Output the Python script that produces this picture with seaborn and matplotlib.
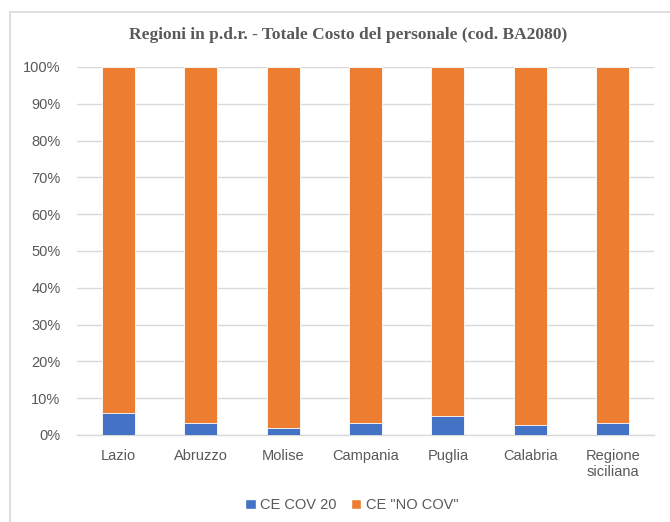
import pandas as pd
import seaborn as sns
import matplotlib.pyplot as plt
from matplotlib.patches import Patch, Rectangle
from matplotlib.ticker import PercentFormatter

# values (share of total personnel cost, %)
regions = ["Lazio", "Abruzzo", "Molise", "Campania", "Puglia", "Calabria", "Regione\nsiciliana"]
cov_20 = [5.9, 3.2, 1.8, 3.2, 5.1, 2.6, 3.2]
no_cov = [94.1, 96.8, 98.2, 96.8, 94.9, 97.4, 96.8]

blue = "#4472C4"
orange = "#ED7D31"
grey_txt = "#595959"
grid_col = "#D9D9D9"

df = pd.DataFrame({"Regione": regions, "cov": cov_20, "nocov": no_cov})
df["tot"] = df["cov"] + df["nocov"]

sns.set_style("white")
plt.rcParams["font.family"] = ["Liberation Sans", "DejaVu Sans"]

fig = plt.figure(figsize=(6.7, 5.22), dpi=100)
ax = fig.add_axes([0.115, 0.1667, 0.861, 0.705])

# stacked 100% bars: orange full stack then blue bottom segment
sns.barplot(data=df, x="Regione", y="tot", color=orange, width=0.4, saturation=1,
            edgecolor="white", linewidth=0.6, ax=ax, zorder=3)
sns.barplot(data=df, x="Regione", y="cov", color=blue, width=0.4, saturation=1,
            edgecolor="white", linewidth=0.6, ax=ax, zorder=4)

ax.set_ylim(0, 100)
ax.set_yticks(range(0, 101, 10))
ax.yaxis.set_major_formatter(PercentFormatter(decimals=0))
ax.grid(axis="y", color=grid_col, linewidth=1, zorder=0)
ax.set_axisbelow(True)
ax.set_xlabel("")
ax.set_ylabel("")
for s in ["top", "right", "left"]:
    ax.spines[s].set_visible(False)
ax.spines["bottom"].set_color(grid_col)
ax.spines["bottom"].set_linewidth(1)
ax.tick_params(axis="both", length=0, labelsize=10.5, labelcolor=grey_txt)
ax.tick_params(axis="y", pad=12)
ax.tick_params(axis="x", pad=10)
for t in ax.get_xticklabels():
    t.set_linespacing(1.2)
    t.set_verticalalignment("top")

fig.text(0.52, 0.932, "Regioni in p.d.r. - Totale Costo del personale (cod. BA2080)",
         ha="center", va="center", fontsize=12.5, color=grey_txt,
         family=["Liberation Serif", "DejaVu Serif"], fontweight="semibold")

handles = [Patch(facecolor=blue, label="CE COV 20"),
           Patch(facecolor=orange, label='CE "NO COV"')]
fig.legend(handles=handles, loc="center", bbox_to_anchor=(0.525, 0.033), ncol=2,
           frameon=False, fontsize=10.5, handlelength=0.7, handleheight=0.7,
           handletextpad=0.3, columnspacing=1.0, labelcolor=grey_txt)

# light frame around the chart area, as in the source
fig.patches.append(Rectangle((0.015, -0.05), 1.1, 1.027, transform=fig.transFigure,
                             fill=False, edgecolor=grid_col, linewidth=1.2))

fig.savefig("out.png", dpi=100)
